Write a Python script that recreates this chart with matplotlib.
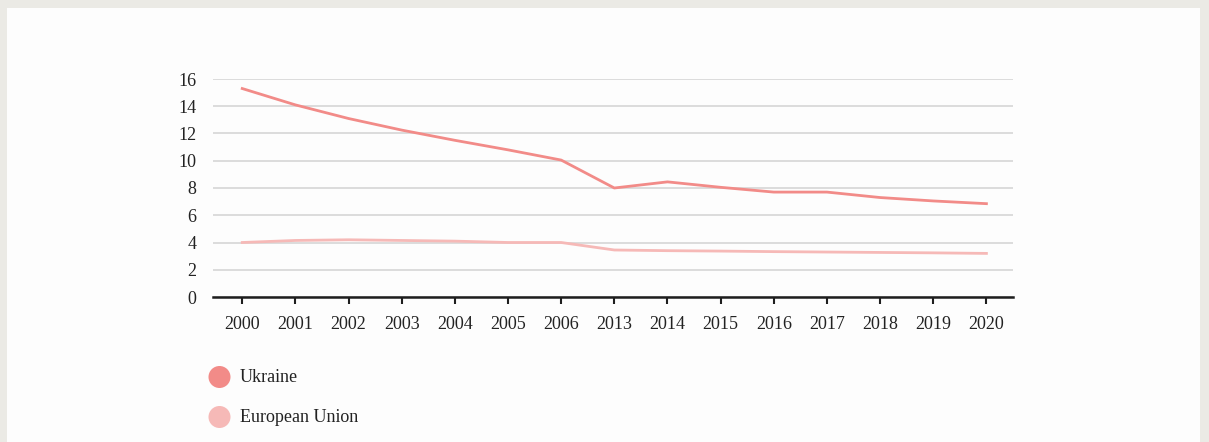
import matplotlib
matplotlib.use("Agg")
import matplotlib.pyplot as plt
from matplotlib.patches import Rectangle, Circle

years = ["2000", "2001", "2002", "2003", "2004", "2005", "2006", "2013",
         "2014", "2015", "2016", "2017", "2018", "2019", "2020"]
ukraine = [15.3, 14.1, 13.1, 12.25, 11.5, 10.8, 10.05, 8.0,
           8.45, 8.05, 7.7, 7.7, 7.3, 7.05, 6.85]
eu = [4.0, 4.15, 4.2, 4.15, 4.1, 4.0, 4.0, 3.45,
      3.4, 3.37, 3.33, 3.3, 3.27, 3.24, 3.2]
yticks = [0, 2, 4, 6, 8, 10, 12, 14, 16]
series_names = ["Ukraine", "European Union"]
colors = ["#f28b88", "#f6b9b7"]

W, H = 1209, 442
fig = plt.figure(figsize=(W / 100, H / 100), dpi=100)
fig.patch.set_facecolor("#ebeae5")

# background axes in pixel coordinates (y downward)
bg = fig.add_axes([0, 0, 1, 1], zorder=0)
bg.set_xlim(0, W)
bg.set_ylim(H, 0)
bg.axis("off")
bg.add_patch(Rectangle((7, 8), 1200 - 7, H, facecolor="#fdfdfd", edgecolor="none"))
for i, (name, c) in enumerate(zip(series_names, colors)):
    yc = 377 + i * 40
    bg.add_patch(Circle((219.5, yc), 11, facecolor=c, edgecolor="none"))
    bg.text(240, yc, name, ha="left", va="center", fontsize=13,
            family="Liberation Serif", color="#222222")

ax = fig.add_axes([213 / W, 1 - 297 / H, (1013 - 213) / W, (297 - 79) / H], zorder=1)
ax.set_facecolor("none")
x = list(range(len(years)))
ax.plot(x, ukraine, color=colors[0], lw=2.0, zorder=3, solid_joinstyle="round")
ax.plot(x, eu, color=colors[1], lw=2.0, zorder=3, solid_joinstyle="round")

ax.set_xlim(-0.55, 14.5)
ax.set_ylim(0, 16)
ax.set_yticks(yticks)
ax.set_yticklabels([str(v) for v in yticks])
ax.set_xticks(x)
ax.set_xticklabels(years)
ax.grid(axis="y", color="#d6d6d6", lw=1.2)
ax.set_axisbelow(True)
for s in ["top", "right", "left"]:
    ax.spines[s].set_visible(False)
ax.spines["bottom"].set_color("#1e1e1e")
ax.spines["bottom"].set_linewidth(1.8)
ax.spines["bottom"].set_zorder(4)
ax.tick_params(axis="x", length=5, width=1.5, color="#1e1e1e", pad=9,
               labelsize=13, labelcolor="#222222")
ax.tick_params(axis="y", length=0, pad=12, labelsize=13, labelcolor="#222222")
for lab in ax.get_xticklabels() + ax.get_yticklabels():
    lab.set_fontfamily("Liberation Serif")

fig.savefig("out.png", dpi=100, facecolor=fig.get_facecolor())
